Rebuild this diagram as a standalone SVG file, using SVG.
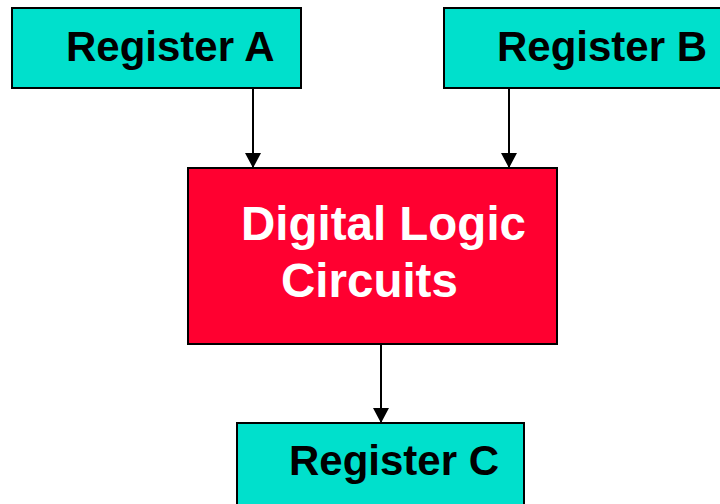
<svg xmlns="http://www.w3.org/2000/svg" width="720" height="504" viewBox="0 0 720 504">
  <style>
    .reg { fill: #00E0CC; stroke: #000; stroke-width: 2; }
    .logic { fill: #FF0030; stroke: #000; stroke-width: 2; }
    .lbl { font-family: "Liberation Sans", Arial, sans-serif; font-weight: bold; }
    .dark { fill: #000; font-size: 42px; }
    .light { fill: #fff; font-size: 47.5px; }
    .wire { stroke: #000; stroke-width: 2; fill: none; marker-end: url(#arrow); }
  </style>
  <defs>
    <marker id="arrow" viewBox="0 0 15 16" refX="15" refY="8" markerWidth="15" markerHeight="16" markerUnits="userSpaceOnUse" orient="auto">
      <path d="M0,0 L15,8 L0,16 z" fill="#000"/>
    </marker>
  </defs>

  <g id="connectors">
    <line class="wire" x1="253" y1="89" x2="253" y2="168"/>
    <line class="wire" x1="509" y1="89" x2="509" y2="168"/>
    <line class="wire" x1="381" y1="344" x2="381" y2="423"/>
  </g>

  <g id="register-a">
    <rect class="reg" x="12" y="8" width="289" height="80"/>
    <text class="lbl dark" x="66" y="61">Register A</text>
  </g>

  <g id="register-b">
    <rect class="reg" x="444" y="8" width="290" height="80"/>
    <text class="lbl dark" x="497" y="61">Register B</text>
  </g>

  <g id="digital-logic">
    <rect class="logic" x="188" y="168" width="369" height="176"/>
    <text class="lbl light" x="241" y="240">Digital Logic</text>
    <text class="lbl light" x="281" y="297">Circuits</text>
  </g>

  <g id="register-c">
    <rect class="reg" x="237" y="423" width="287" height="90"/>
    <text class="lbl dark" x="289" y="475">Register C</text>
  </g>
</svg>
